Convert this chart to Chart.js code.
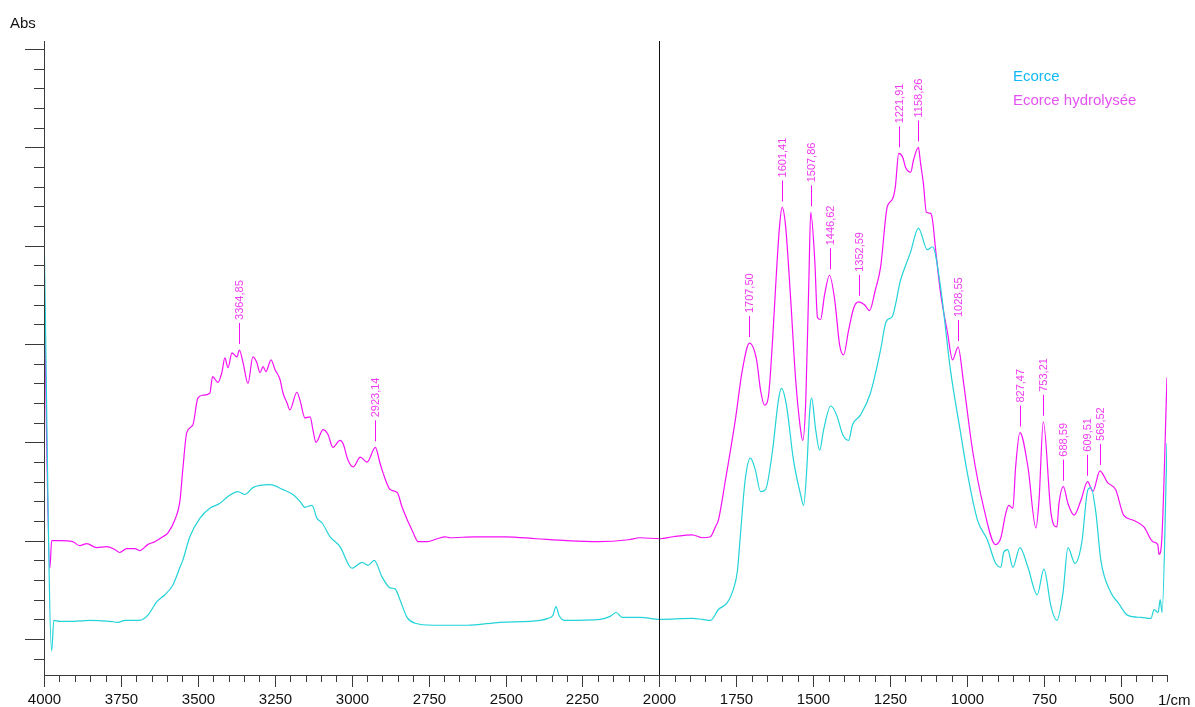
<!DOCTYPE html>
<html lang="fr">
<head>
<meta charset="UTF-8">
<title>Spectre IR - Ecorce</title>
<script src="https://cdn.jsdelivr.net/npm/chart.js"></script>
<style>
  body { margin: 0; padding: 0; background: #fff; }
  canvas { display: block; }
</style>
</head>
<body>
<canvas id="irChart" width="1195" height="707"></canvas>
<script>
// wavenumber (1/cm), absorbance
const ecorce = [
  [4000, 0.417], [3975, -0.012], [3968, 0.019], [3949, 0.018], [3907, 0.018], [3851, 0.019],
  [3786, 0.018], [3760, 0.017], [3737, 0.019], [3689, 0.019], [3663, 0.024], [3633, 0.038],
  [3607, 0.045], [3581, 0.055], [3558, 0.073], [3549, 0.080], [3526, 0.104], [3493, 0.123],
  [3461, 0.133], [3428, 0.138], [3402, 0.145], [3370, 0.150], [3347, 0.147], [3321, 0.154],
  [3266, 0.157], [3223, 0.152], [3191, 0.147], [3168, 0.140], [3152, 0.134], [3129, 0.136],
  [3113, 0.123], [3096, 0.118], [3070, 0.104], [3038, 0.094], [2999, 0.072], [2966, 0.078],
  [2947, 0.075], [2927, 0.080], [2901, 0.063], [2875, 0.052], [2859, 0.051], [2843, 0.040],
  [2820, 0.022], [2794, 0.016], [2735, 0.014], [2625, 0.014], [2518, 0.017], [2388, 0.019],
  [2362, 0.021], [2346, 0.024], [2336, 0.033], [2326, 0.024], [2307, 0.019], [2193, 0.020],
  [2160, 0.023], [2140, 0.027], [2121, 0.022], [2063, 0.022], [1998, 0.020], [1893, 0.021],
  [1860, 0.020], [1834, 0.019], [1808, 0.030], [1779, 0.037], [1760, 0.050], [1746, 0.070],
  [1737, 0.104], [1721, 0.162], [1704, 0.184], [1688, 0.172], [1671, 0.150], [1655, 0.152],
  [1632, 0.192], [1613, 0.243], [1603, 0.255], [1587, 0.238], [1564, 0.182], [1541, 0.147],
  [1531, 0.136], [1521, 0.172], [1511, 0.233], [1505, 0.245], [1492, 0.213], [1479, 0.192],
  [1466, 0.213], [1443, 0.237], [1424, 0.228], [1404, 0.208], [1385, 0.202], [1372, 0.218],
  [1346, 0.228], [1314, 0.250], [1281, 0.294], [1265, 0.321], [1258, 0.325], [1243, 0.328],
  [1216, 0.365], [1184, 0.393], [1158, 0.418], [1129, 0.396], [1112, 0.399], [1086, 0.358],
  [1054, 0.274], [1021, 0.210], [999, 0.169], [966, 0.121], [934, 0.101], [907, 0.077],
  [890, 0.073], [881, 0.088], [868, 0.091], [851, 0.073], [828, 0.093], [802, 0.073],
  [772, 0.045], [750, 0.071], [727, 0.033], [708, 0.019], [688, 0.047], [672, 0.093],
  [649, 0.077], [627, 0.098], [607, 0.152], [597, 0.154], [581, 0.128], [565, 0.080],
  [532, 0.047], [509, 0.037], [477, 0.024], [434, 0.022], [402, 0.021], [392, 0.030],
  [379, 0.027], [372, 0.040], [366, 0.027], [350, 0.199]
];

const ecorceHydro = [
  [4000, 0.368], [3981, 0.072], [3975, 0.100], [3949, 0.100], [3907, 0.099], [3884, 0.095],
  [3861, 0.097], [3829, 0.093], [3796, 0.094], [3770, 0.091], [3754, 0.088], [3731, 0.092],
  [3705, 0.092], [3689, 0.090], [3663, 0.096], [3640, 0.099], [3614, 0.104], [3597, 0.108],
  [3575, 0.121], [3558, 0.141], [3549, 0.172], [3536, 0.210], [3516, 0.218], [3500, 0.245],
  [3484, 0.248], [3461, 0.250], [3452, 0.267], [3435, 0.261], [3422, 0.271], [3412, 0.286],
  [3402, 0.276], [3389, 0.291], [3373, 0.287], [3365, 0.294], [3353, 0.281], [3337, 0.260],
  [3321, 0.287], [3308, 0.281], [3298, 0.271], [3288, 0.277], [3279, 0.272], [3262, 0.284],
  [3249, 0.274], [3233, 0.264], [3223, 0.250], [3210, 0.240], [3201, 0.233], [3178, 0.251],
  [3168, 0.243], [3152, 0.225], [3135, 0.226], [3126, 0.213], [3116, 0.200], [3093, 0.213],
  [3077, 0.208], [3061, 0.195], [3038, 0.202], [3028, 0.199], [3012, 0.182], [2995, 0.175],
  [2972, 0.185], [2950, 0.180], [2923, 0.195], [2908, 0.179], [2898, 0.169], [2875, 0.152],
  [2852, 0.149], [2836, 0.134], [2800, 0.108], [2784, 0.099], [2755, 0.099], [2722, 0.102],
  [2696, 0.104], [2680, 0.103], [2600, 0.104], [2500, 0.104], [2400, 0.102], [2300, 0.100],
  [2200, 0.099], [2100, 0.101], [2063, 0.103], [1998, 0.102], [1955, 0.104], [1893, 0.106],
  [1860, 0.103], [1834, 0.104], [1818, 0.114], [1808, 0.121], [1785, 0.162], [1753, 0.223],
  [1730, 0.274], [1707, 0.301], [1684, 0.284], [1671, 0.253], [1658, 0.238], [1645, 0.248],
  [1632, 0.304], [1619, 0.375], [1609, 0.421], [1601, 0.439], [1590, 0.421], [1573, 0.345],
  [1557, 0.264], [1541, 0.213], [1534, 0.202], [1524, 0.243], [1514, 0.365], [1508, 0.434],
  [1495, 0.386], [1486, 0.327], [1476, 0.325], [1463, 0.350], [1447, 0.370], [1430, 0.345],
  [1414, 0.299], [1401, 0.289], [1385, 0.314], [1368, 0.337], [1353, 0.343], [1333, 0.340],
  [1317, 0.334], [1298, 0.355], [1281, 0.378], [1259, 0.440], [1243, 0.447], [1233, 0.460],
  [1222, 0.494], [1209, 0.490], [1200, 0.480], [1183, 0.475], [1174, 0.487], [1158, 0.500],
  [1151, 0.484], [1142, 0.464], [1132, 0.434], [1118, 0.433], [1112, 0.426], [1103, 0.399],
  [1086, 0.352], [1063, 0.311], [1047, 0.284], [1029, 0.297], [1011, 0.260], [982, 0.192],
  [946, 0.134], [907, 0.096], [890, 0.103], [874, 0.128], [864, 0.136], [851, 0.133],
  [842, 0.175], [828, 0.210], [802, 0.175], [776, 0.113], [766, 0.141], [752, 0.221],
  [727, 0.128], [708, 0.114], [701, 0.138], [687, 0.155], [672, 0.138], [652, 0.126],
  [630, 0.141], [608, 0.160], [591, 0.150], [568, 0.171], [543, 0.159], [517, 0.152],
  [491, 0.126], [461, 0.121], [425, 0.114], [396, 0.099], [380, 0.096], [376, 0.086],
  [367, 0.101], [350, 0.266]
];

// peaks picked on the hydrolysed spectrum
const peaks = [3364.85, 2923.14, 1707.50, 1601.41, 1507.86, 1446.62, 1352.59,
               1221.91, 1158.26, 1028.55, 827.47, 753.21, 688.59, 609.51, 568.52];

const xTickLabels = [4000, 3750, 3500, 3250, 3000, 2750, 2500, 2250, 2000, 1750, 1500, 1250, 1000, 750, 500];

const colEcorce = '#22d3d8';
const colHydro = '#f510f5';

function toPoints(arr) {
  return arr.map(p => ({ x: p[0], y: p[1] }));
}

const axesPlugin = {
  id: 'irAxes',
  afterDraw(chart) {
    const ctx = chart.ctx;
    const a = chart.chartArea;
    const xs = chart.scales.x;
    const ys = chart.scales.y;
    ctx.save();

    // axis lines
    ctx.strokeStyle = '#3a3a3a';
    ctx.lineWidth = 1;
    ctx.beginPath();
    ctx.moveTo(a.left + 0.5, a.top);
    ctx.lineTo(a.left + 0.5, a.bottom + 0.5);
    ctx.lineTo(a.right + 0.5, a.bottom + 0.5);
    ctx.stroke();

    // x ticks: minor every 50, major (labelled) every 250
    ctx.font = '15px "Liberation Sans", Arial, sans-serif';
    ctx.fillStyle = '#111';
    ctx.textAlign = 'center';
    ctx.textBaseline = 'alphabetic';
    for (let v = xs.max; v >= xs.min; v -= 50) {
      const px = Math.round(xs.getPixelForValue(v)) + 0.5;
      const major = xTickLabels.includes(v);
      ctx.beginPath();
      ctx.moveTo(px, a.bottom);
      ctx.lineTo(px, a.bottom + (major ? 12 : 7));
      ctx.stroke();
      if (major) ctx.fillText(String(v), px, a.bottom + 29);
    }
    ctx.textAlign = 'left';
    ctx.fillText('1/cm', a.right - 9, a.bottom + 30);

    // y ticks (no labels)
    for (let k = -1; k <= 30; k++) {
      const py = Math.round(ys.getPixelForValue(k * 0.02)) + 0.5;
      const major = k % 5 === 0;
      ctx.beginPath();
      ctx.moveTo(a.left, py);
      ctx.lineTo(a.left - (major ? 19 : 10), py);
      ctx.stroke();
    }
    ctx.fillText('Abs', 10, 28);

    // separator at 2000 1/cm
    const x2000 = Math.round(xs.getPixelForValue(2000)) + 0.5;
    ctx.strokeStyle = '#111';
    ctx.beginPath();
    ctx.moveTo(x2000, a.top);
    ctx.lineTo(x2000, a.bottom);
    ctx.stroke();

    // peak labels
    ctx.strokeStyle = colHydro;
    ctx.lineWidth = 1;
    ctx.fillStyle = '#f03cf0';
    ctx.font = '11px "Liberation Sans", Arial, sans-serif';
    peaks.forEach(p => {
      let best = null;
      ecorceHydro.forEach(pt => {
        if (Math.abs(pt[0] - p) <= 8 && (best === null || pt[1] > best)) best = pt[1];
      });
      const px = Math.round(xs.getPixelForValue(p)) + 0.5;
      const py = ys.getPixelForValue(best);
      ctx.beginPath();
      ctx.moveTo(px, py - 6);
      ctx.lineTo(px, py - 27);
      ctx.stroke();
      ctx.save();
      ctx.translate(px, py - 30);
      ctx.rotate(-Math.PI / 2);
      ctx.textAlign = 'left';
      ctx.textBaseline = 'middle';
      ctx.fillText(p.toFixed(2).replace('.', ','), 0, 0);
      ctx.restore();
    });

    // legend
    ctx.font = '15px "Liberation Sans", Arial, sans-serif';
    ctx.textAlign = 'left';
    ctx.textBaseline = 'alphabetic';
    const legendCols = ['#12b9f2', '#e552f2'];
    chart.data.datasets.forEach((ds, i) => {
      ctx.fillStyle = legendCols[i];
      ctx.fillText(ds.label, 1013, 81 + i * 24);
    });

    ctx.restore();
  }
};

const chart = new Chart(document.getElementById('irChart'), {
  type: 'line',
  data: {
    datasets: [
      { label: 'Ecorce', data: toPoints(ecorce), borderColor: colEcorce, borderWidth: 1.2 },
      { label: 'Ecorce hydrolysée', data: toPoints(ecorceHydro), borderColor: colHydro, borderWidth: 1.2 }
    ]
  },
  options: {
    responsive: false,
    animation: false,
    elements: { point: { radius: 0 }, line: { cubicInterpolationMode: 'monotone' } },
    layout: { padding: { left: 44, right: 28, top: 41, bottom: 32 } },
    scales: {
      x: { type: 'linear', reverse: true, min: 350, max: 4000, display: false },
      y: { type: 'linear', min: -0.0366, max: 0.6083, display: false }
    },
    plugins: {
      legend: { display: false },
      tooltip: { enabled: false }
    }
  },
  plugins: [axesPlugin]
});
</script>
</body>
</html>
